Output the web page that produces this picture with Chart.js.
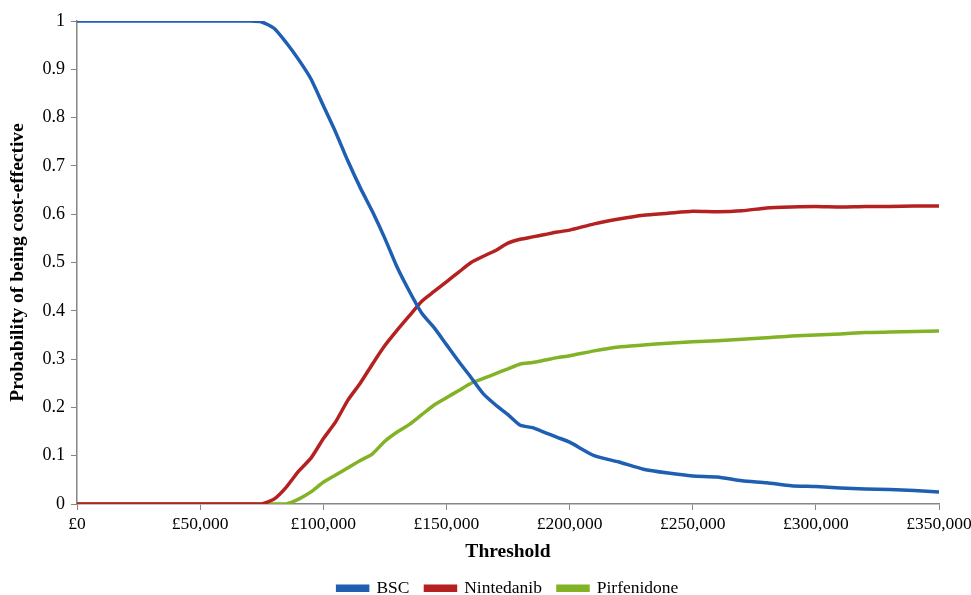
<!DOCTYPE html>
<html>
<head>
<meta charset="utf-8">
<script src="https://cdn.jsdelivr.net/npm/chart.js@4"></script>
<style>
  html, body { margin: 0; padding: 0; background: #fff; overflow: hidden; }
  #wrap { width: 971px; height: 595px; }
</style>
</head>
<body>
<div id="wrap"><canvas id="ceac" width="971" height="595"></canvas></div>
<script>
// thresholds (£) shared by all series
const thresholds = [0, 60000, 65000, 70000, 75000, 80000, 85000, 90000, 95000, 100000,
  105000, 110000, 115000, 120000, 125000, 130000, 135000, 140000, 145000, 150000,
  155000, 160000, 165000, 170000, 175000, 180000, 185000, 190000, 195000, 200000,
  210000, 220000, 230000, 240000, 250000, 260000, 270000, 280000, 290000, 300000,
  310000, 320000, 330000, 340000, 350000];

const bsc = [1, 1, 1, 1, 0.998, 0.985, 0.955, 0.92, 0.88, 0.825,
  0.77, 0.71, 0.655, 0.605, 0.55, 0.49, 0.44, 0.395, 0.365, 0.33,
  0.295, 0.262, 0.228, 0.205, 0.185, 0.163, 0.158, 0.148, 0.138, 0.128,
  0.1, 0.087, 0.072, 0.064, 0.058, 0.056, 0.048, 0.044, 0.038, 0.036,
  0.033, 0.031, 0.03, 0.028, 0.025];

const nintedanib = [0, 0, 0, 0, 0, 0.01, 0.035, 0.068, 0.095, 0.135,
  0.17, 0.215, 0.25, 0.29, 0.328, 0.36, 0.39, 0.42, 0.44, 0.46,
  0.48, 0.5, 0.513, 0.525, 0.54, 0.548, 0.553, 0.558, 0.563, 0.567,
  0.58, 0.59, 0.598, 0.602, 0.606, 0.605, 0.607, 0.613, 0.615, 0.616,
  0.615, 0.616, 0.616, 0.617, 0.617];

const pirfenidone = [0, 0, 0, 0, 0, 0, 0, 0.01, 0.025, 0.045,
  0.06, 0.075, 0.09, 0.104, 0.13, 0.149, 0.165, 0.185, 0.205, 0.22,
  0.235, 0.25, 0.26, 0.27, 0.28, 0.29, 0.293, 0.298, 0.303, 0.307,
  0.317, 0.325, 0.329, 0.333, 0.336, 0.338, 0.341, 0.344, 0.348, 0.35,
  0.352, 0.355, 0.356, 0.357, 0.358];

const xTicks = [0, 50000, 100000, 150000, 200000, 250000, 300000, 350000];
const yTicks = [0, 0.1, 0.2, 0.3, 0.4, 0.5, 0.6, 0.7, 0.8, 0.9, 1];

const toPoints = (vals) => thresholds.map((t, i) => ({ x: t, y: vals[i] }));

const serif = "'Liberation Serif', 'Times New Roman', serif";
const axisGrey = "#868686";

const series = [
  { label: "BSC", data: bsc, color: "#1f5fb2" },
  { label: "Nintedanib", data: nintedanib, color: "#b52121" },
  { label: "Pirfenidone", data: pirfenidone, color: "#82b226" },
];

// centre the legend under the plot area rather than the whole canvas
const legendUnderPlot = {
  id: "legendUnderPlot",
  afterLayout(chart) {
    if (chart.legend) {
      chart.legend.left = chart.chartArea.left;
      chart.legend.right = chart.chartArea.right;
    }
  },
};

const ctx = document.getElementById("ceac").getContext("2d");
new Chart(ctx, {
  type: "line",
  data: {
    datasets: series.map((s) => ({
      label: s.label,
      data: toPoints(s.data),
      borderColor: s.color,
      backgroundColor: s.color,
      borderWidth: 3.5,
      pointRadius: 0,
      tension: 0.2,
      fill: false,
    })),
  },
  plugins: [legendUnderPlot],
  options: {
    responsive: false,
    animation: false,
    layout: { padding: { top: 21, right: 32, left: 0, bottom: -12 } },
    plugins: {
      tooltip: { enabled: false },
      legend: {
        position: "bottom",
        labels: {
          font: { family: serif, size: 17.5 },
          color: "#000",
          boxWidth: 30,
          boxHeight: 4,
          padding: 16,
        },
      },
    },
    scales: {
      x: {
        type: "linear",
        min: 0,
        max: 350000,
        afterBuildTicks: (axis) => {
          axis.ticks = xTicks.map((v) => ({ value: v }));
        },
        afterFit: (axis) => {
          axis.height = 59.5;
          axis.paddingRight = 0;
        },
        ticks: {
          font: { family: serif, size: 17.5 },
          color: "#000",
          maxRotation: 0,
          padding: 4,
          callback: (v) => "£" + Number(v).toLocaleString("en-GB"),
        },
        grid: { drawOnChartArea: false, drawTicks: true, tickLength: 6, color: axisGrey },
        border: { color: axisGrey, width: 1.5 },
        title: {
          display: true,
          text: "Threshold",
          font: { family: serif, size: 19.5, weight: "bold" },
          color: "#000",
          padding: { top: 5, bottom: 0 },
        },
      },
      y: {
        min: 0,
        max: 1,
        afterBuildTicks: (axis) => {
          axis.ticks = yTicks.map((v) => ({ value: v }));
        },
        afterFit: (axis) => { axis.width = 77; },
        ticks: {
          font: { family: serif, size: 18 },
          color: "#000",
          padding: 6,
          callback: (v) => (v === 0 ? "0" : v === 1 ? "1" : Number(v).toFixed(1)),
        },
        grid: { drawOnChartArea: false, drawTicks: true, tickLength: 6, color: axisGrey },
        border: { color: axisGrey, width: 1.5 },
        title: {
          display: true,
          text: "Probability of being cost-effective",
          font: { family: serif, size: 19.5, weight: "bold" },
          color: "#000",
          padding: { top: 6, bottom: 0 },
        },
      },
    },
  },
});
</script>
</body>
</html>
